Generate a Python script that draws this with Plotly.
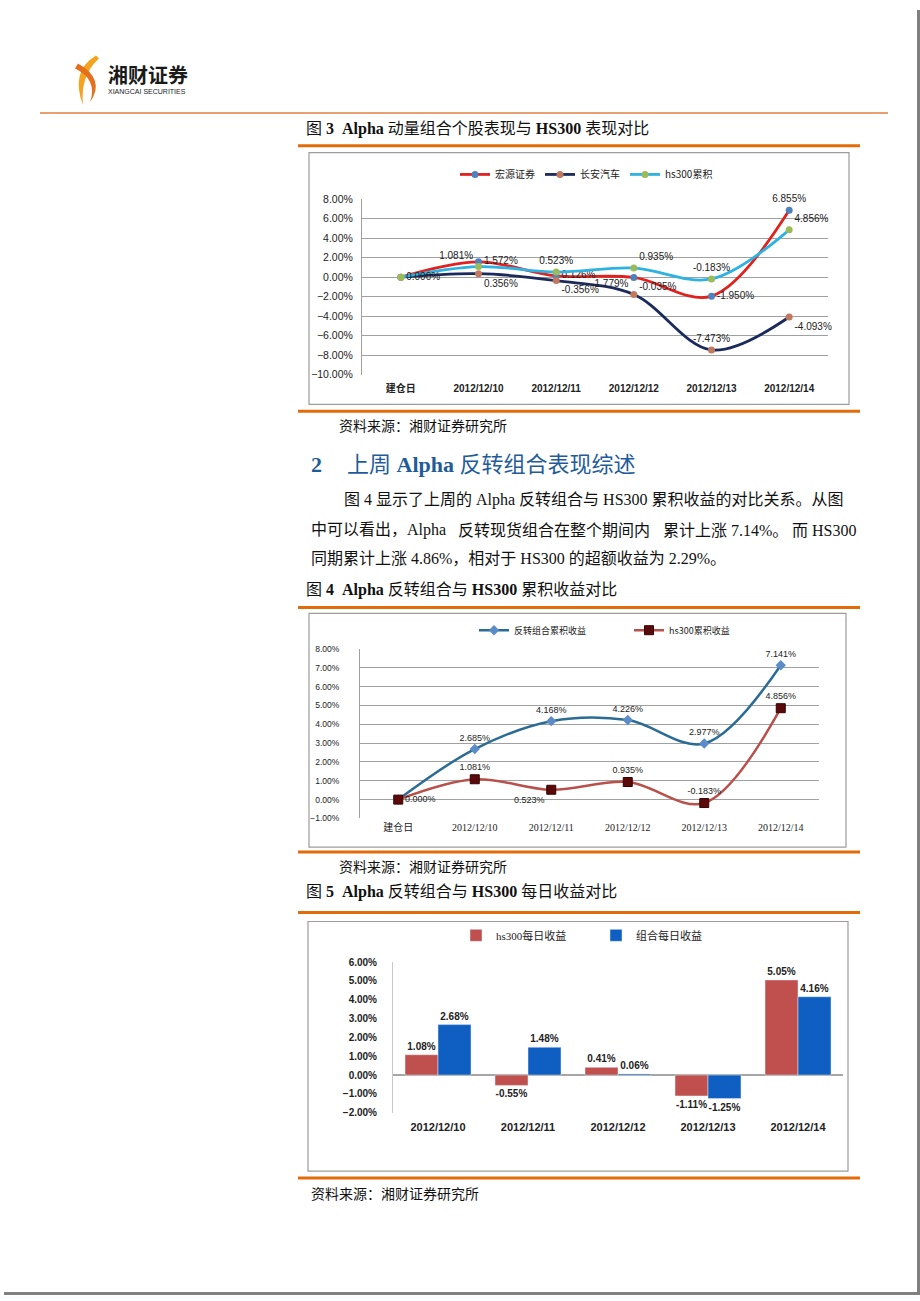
import plotly.graph_objects as go

W, H = 920, 1301


def X(p):
    return p / W


def Y(p):
    return 1 - p / H


# ---------------- data ----------------
# Figure 3
cats3 = ["建仓日", "2012/12/10", "2012/12/11", "2012/12/12", "2012/12/13", "2012/12/14"]
hongyuan = [0.0, 1.572, 0.126, -0.035, -1.950, 6.855]
changan = [0.0, 0.356, -0.356, -1.779, -7.473, -4.093]
hs300_cum3 = [0.0, 1.081, 0.523, 0.935, -0.183, 4.856]
names3 = ["宏源证券", "长安汽车", "hs300累积"]

# Figure 4
cats4 = ["建仓日", "2012/12/10", "2012/12/11", "2012/12/12", "2012/12/13", "2012/12/14"]
reversal_cum = [0.0, 2.685, 4.168, 4.226, 2.977, 7.141]
hs300_cum4 = [0.0, 1.081, 0.523, 0.935, -0.183, 4.856]
names4 = ["反转组合累积收益", "hs300累积收益"]

# Figure 5
cats5 = ["2012/12/10", "2012/12/11", "2012/12/12", "2012/12/13", "2012/12/14"]
hs300_daily = [1.08, -0.55, 0.41, -1.11, 5.05]
port_daily = [2.68, 1.48, 0.06, -1.25, 4.16]
names5 = ["hs300每日收益", "组合每日收益"]

SANS = "Liberation Sans, Noto Sans CJK SC, sans-serif"
SERIF = "Liberation Serif, Noto Sans CJK SC, serif"
CJK = "Noto Sans CJK SC, Liberation Sans, sans-serif"


def labels(vals, skip=()):
    return ["" if i in skip else f"{v:.3f}%" for i, v in enumerate(vals)]


fig = go.Figure()

# ---------------- Figure 3 traces ----------------
fig.add_trace(go.Scatter(
    x=cats3, y=hongyuan, name=names3[0], mode="lines+markers+text",
    line=dict(color="#E0211D", width=2.8, shape="spline"),
    marker=dict(color="#4F81BD", size=7),
    text=labels(hongyuan, skip=(0,)),
    textposition=["middle right", "middle right", "middle right", "bottom right", "middle right", "top center"],
    textfont=dict(size=10, color="#222", family=SANS),
    cliponaxis=False, xaxis="x", yaxis="y", legend="legend"))
fig.add_trace(go.Scatter(
    x=cats3, y=changan, name=names3[1], mode="lines+markers+text",
    line=dict(color="#1B2A5C", width=2.8, shape="spline"),
    marker=dict(color="#C0785F", size=7),
    text=labels(changan, skip=(0,)),
    textposition=["middle right", "bottom right", "bottom right", "top left", "top center", "bottom right"],
    textfont=dict(size=10, color="#222", family=SANS),
    cliponaxis=False, xaxis="x", yaxis="y", legend="legend"))
fig.add_trace(go.Scatter(
    x=cats3, y=hs300_cum3, name=names3[2], mode="lines+markers+text",
    line=dict(color="#2EB2E2", width=2.8, shape="spline"),
    marker=dict(color="#9BBB59", size=7),
    text=labels(hs300_cum3),
    textposition=["middle right", "top left", "top center", "top right", "top center", "top right"],
    textfont=dict(size=10, color="#222", family=SANS),
    cliponaxis=False, xaxis="x", yaxis="y", legend="legend"))

# ---------------- Figure 4 traces ----------------
fig.add_trace(go.Scatter(
    x=cats4, y=reversal_cum, name=names4[0], mode="lines+markers+text",
    line=dict(color="#2A6C94", width=2.5, shape="spline"),
    marker=dict(color="#5B8CC8", size=8, symbol="diamond"),
    text=labels(reversal_cum, skip=(0,)),
    textposition="top center",
    textfont=dict(size=9, color="#222", family=SANS),
    cliponaxis=False, xaxis="x2", yaxis="y2", legend="legend2"))
fig.add_trace(go.Scatter(
    x=cats4, y=hs300_cum4, name=names4[1], mode="lines+markers+text",
    line=dict(color="#B8504B", width=2.5, shape="spline"),
    marker=dict(color="#5A0A0A", size=9, symbol="square", line=dict(color="#3A0000", width=1)),
    text=labels(hs300_cum4),
    textposition=["middle right", "top center", "bottom left", "top center", "top center", "top center"],
    textfont=dict(size=9, color="#222", family=SANS),
    cliponaxis=False, xaxis="x2", yaxis="y2", legend="legend2"))

# ---------------- Figure 5 traces ----------------
fig.add_trace(go.Bar(
    x=cats5, y=hs300_daily, name=names5[0], marker=dict(color="#C0504D"),
    text=[f"{v:.2f}%" for v in hs300_daily], textposition="outside",
    textfont=dict(size=10, color="#222", family=SANS, weight="bold"),
    constraintext="none", cliponaxis=False,
    xaxis="x3", yaxis="y3", legend="legend3"))
fig.add_trace(go.Bar(
    x=cats5, y=port_daily, name=names5[1], marker=dict(color="#0F5FC2"),
    text=[f"{v:.2f}%" for v in port_daily], textposition="outside",
    textfont=dict(size=10, color="#222", family=SANS, weight="bold"),
    constraintext="none", cliponaxis=False,
    xaxis="x3", yaxis="y3", legend="legend3"))

GRID = "#A0A0A0"

fig.update_layout(
    width=W, height=H, margin=dict(l=0, r=0, t=0, b=0),
    paper_bgcolor="white", plot_bgcolor="rgba(0,0,0,0)",
    font=dict(family=SANS, color="#222"),
    barmode="group", bargap=0.267, bargroupgap=0,
    showlegend=True,
    # Figure 3 axes
    xaxis=dict(domain=[X(362), X(828)], anchor="y", type="category", range=[-0.5, 5.5],
               showgrid=False, showline=False, zeroline=False, ticks="",
               tickfont=dict(size=10, family=SANS, weight="bold", color="#222"),
               ticklabelstandoff=6),
    yaxis=dict(domain=[Y(372), Y(195)], anchor="x", range=[-10, 8], dtick=2, tick0=0,
               tickformat=".2f", ticksuffix="%", showgrid=True, gridcolor=GRID, gridwidth=1,
               zeroline=False, showline=True, linecolor=GRID, ticks="",
               tickfont=dict(size=10.5, family=SANS, color="#222"), ticklabelstandoff=6),
    # Figure 4 axes
    xaxis2=dict(domain=[X(360), X(819)], anchor="y2", type="category", range=[-0.5, 5.5],
                showgrid=False, showline=False, zeroline=False, ticks="",
                tickfont=dict(size=10, family=SERIF, color="#222"), ticklabelstandoff=2),
    yaxis2=dict(domain=[Y(820), Y(649)], anchor="x2", range=[-1, 8], dtick=1, tick0=0,
                tickformat=".2f", ticksuffix="%", showgrid=True, gridcolor=GRID, gridwidth=1,
                zeroline=False, showline=True, linecolor=GRID, ticks="",
                tickfont=dict(size=8.5, family=SANS, color="#222"), ticklabelstandoff=18),
    # Figure 5 axes
    xaxis3=dict(domain=[X(393), X(843)], anchor="y3", type="category",
                showgrid=False, showline=False, zeroline=False, ticks="",
                tickfont=dict(size=11, family=SANS, weight="bold", color="#222"),
                ticklabelstandoff=6),
    yaxis3=dict(domain=[Y(1117), Y(965)], anchor="x3", range=[-2, 6], dtick=1, tick0=0,
                tickformat=".2f", ticksuffix="%", showgrid=False,
                zeroline=True, zerolinecolor="#A6A6A6", zerolinewidth=1.5,
                showline=True, linecolor="#C8C8C8", ticks="",
                tickfont=dict(size=10, family=SANS, weight="bold", color="#222"),
                ticklabelstandoff=13),
    legend=dict(orientation="h", x=X(455), y=Y(170), xanchor="left", yanchor="middle",
                font=dict(size=10, family=CJK), bgcolor="rgba(0,0,0,0)", itemwidth=30),
    legend2=dict(orientation="h", x=X(474), y=Y(630), xanchor="left", yanchor="middle",
                 font=dict(size=9, family=CJK), bgcolor="rgba(0,0,0,0)", itemwidth=30,
                 entrywidth=110),
    legend3=dict(orientation="h", x=X(456), y=Y(938), xanchor="left", yanchor="middle",
                 font=dict(size=11, family=SERIF), bgcolor="rgba(0,0,0,0)", itemwidth=30,
                 entrywidth=95),
)

ORANGE = "#E36C0A"
shapes = []


def hline(y, x0, x1, color=ORANGE, width=3):
    shapes.append(dict(type="line", xref="paper", yref="paper", x0=X(x0), x1=X(x1),
                       y0=Y(y), y1=Y(y), line=dict(color=color, width=width)))


def frame(x0, y0, x1, y1):
    shapes.append(dict(type="rect", xref="paper", yref="paper", x0=X(x0), x1=X(x1),
                       y0=Y(y1), y1=Y(y0), line=dict(color="#9C9C9C", width=1.2),
                       fillcolor="rgba(0,0,0,0)", layer="below"))


hline(108, 40, 888, color="#E8A070", width=2)
hline(141, 298, 860)
hline(409, 298, 860)
hline(607, 298, 860)
hline(854, 298, 860)
hline(915, 298, 860)
hline(1183, 298, 860)

frame(309, 148, 849, 402)
frame(309, 613, 846, 849)
frame(308, 924, 848, 1176)


def path(points_str, color):
    shapes.append(dict(type="path", xref="paper", yref="paper", path=points_str,
                       fillcolor=color, line=dict(width=0)))


def P(x, y):
    return f"{X(x):.5f},{Y(y):.5f}"


# logo mark
path(f"M{P(96,50)} Q{P(70,66)} {P(83,100)} Q{P(80,70)} {P(99,53)} Z", "#F5A21E")
path(f"M{P(78,58)} Q{P(106,74)} {P(90,97)} Q{P(98,74)} {P(75,63)} Z", "#E4701E")

# page edge shadow
shapes.append(dict(type="rect", xref="paper", yref="paper", x0=X(917), x1=X(920),
                   y0=Y(1301), y1=Y(4), fillcolor="#808080", line=dict(width=0)))
shapes.append(dict(type="rect", xref="paper", yref="paper", x0=X(4), x1=X(920),
                   y0=Y(1301), y1=Y(1298), fillcolor="#808080", line=dict(width=0)))

fig.update_layout(shapes=shapes)

ann = []


def text(x, y, s, size, family=SERIF, color="#111", xanchor="left"):
    ann.append(dict(x=X(x), y=Y(y), xref="paper", yref="paper", text=s, showarrow=False,
                    xanchor=xanchor, yanchor="middle", font=dict(size=size, family=family, color=color)))


text(106, 69, "<b>湘财证券</b>", 20, family=CJK, color="#1a1a1a")
text(106, 86, "XIANGCAI SECURITIES", 7, family="Liberation Sans Narrow, Liberation Sans", color="#222")

text(304, 124, "图 <b>3</b>  <b>Alpha</b> 动量组合个股表现与 <b>HS300</b> 表现对比", 16)
text(337, 423, "资料来源：湘财证券研究所", 14, family=CJK)
text(309, 463, "<b>2</b>", 22, color="#1F5C99")
text(345, 463, "上周 <b>Alpha</b> 反转组合表现综述", 22, color="#1F5C99")
text(342, 499, "图 4 显示了上周的 Alpha 反转组合与 HS300 累积收益的对比关系。从图", 16)
# justified second line, split into pieces
text(309, 529, "中可以看出，Alpha", 16)
text(456, 529, "反转现货组合在整个期间内", 16)
text(661, 529, "累计上涨 7.14%。", 16)
text(858, 529, "而 HS300", 16, xanchor="right")
text(309, 558, "同期累计上涨 4.86%，相对于 HS300 的超额收益为 2.29%。", 16)
text(304, 589, "图 <b>4</b>  <b>Alpha</b> 反转组合与 <b>HS300</b> 累积收益对比", 16)
text(337, 868, "资料来源：湘财证券研究所", 14, family=CJK)
text(304, 894, "图 <b>5</b>  <b>Alpha</b> 反转组合与 <b>HS300</b> 每日收益对比", 16)
text(309, 1198, "资料来源：湘财证券研究所", 14, family=CJK)

fig.update_layout(annotations=ann)

fig.write_html("out.html", config={"displayModeBar": False},
               post_script="document.body.style.margin='0px';document.body.style.overflow='hidden';")
